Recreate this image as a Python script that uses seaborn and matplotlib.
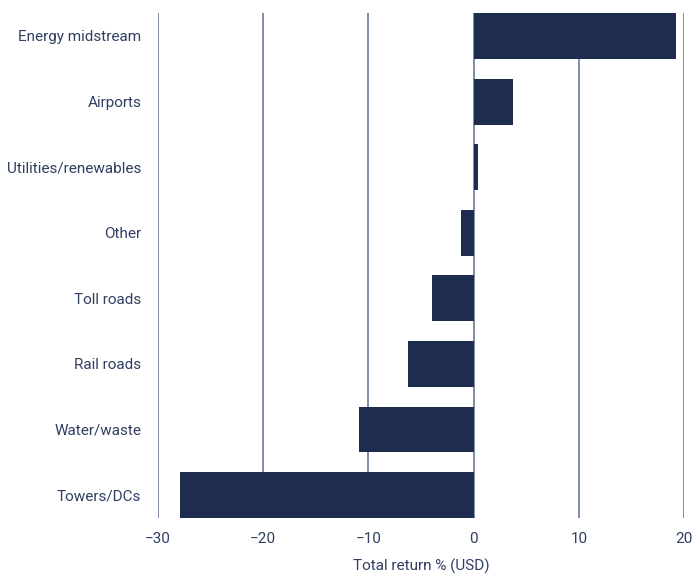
import pandas as pd
import matplotlib
matplotlib.use("Agg")
import matplotlib.pyplot as plt
import seaborn as sns

# Datos
sectores = ["Energy midstream", "Airports", "Utilities/renewables", "Other",
            "Toll roads", "Rail roads", "Water/waste", "Towers/DCs"]
retornos = [19.2, 3.7, 0.4, -1.2, -4.0, -6.2, -10.9, -27.9]
ticks_x = [-30, -20, -10, 0, 10, 20]

df = pd.DataFrame({"sector": sectores, "retorno": retornos})

sns.set_theme(style="white")
plt.rcParams["font.family"] = ["Roboto", "DejaVu Sans"]

color_barra = "#1e2d4f"
color_texto = "#303e62"
color_grid = "#6b7a99"

fig = plt.figure(figsize=(6.96, 5.76), dpi=100)
ax = fig.add_axes([0.227, 0.1007, 0.756, 0.8767])

ax.set_axisbelow(True)
for t in ticks_x:
    ax.axvline(t, color=color_grid, lw=1.2, zorder=0)

sns.barplot(data=df, x="retorno", y="sector", orient="h", color=color_barra,
            width=0.7, saturation=1, linewidth=0, ax=ax, zorder=2)

ax.set_xlim(-30, 20)
ax.set_ylim(7.35, -0.35)
ax.set_xticks(ticks_x)
ax.set_xticklabels([str(t).replace("-", "\u2212") for t in ticks_x])
for s in ax.spines.values():
    s.set_visible(False)
ax.tick_params(axis="both", length=0, labelsize=11, labelcolor=color_texto)
ax.tick_params(axis="x", pad=10)
ax.tick_params(axis="y", pad=12)
ax.set_ylabel("")
ax.set_xlabel("Total return % (USD)", fontsize=11, color=color_texto, labelpad=9)

fig.savefig("out.png", dpi=100)
